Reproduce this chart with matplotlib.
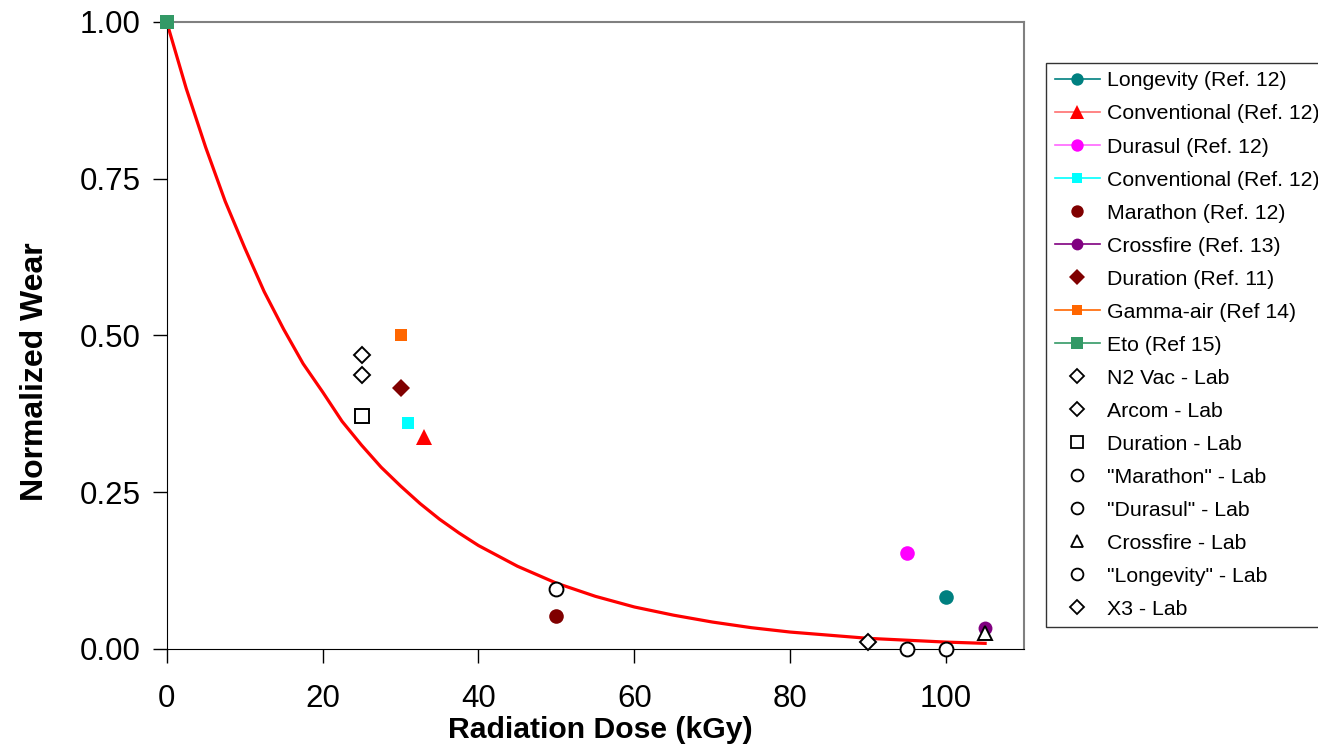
import matplotlib
matplotlib.use("Agg")
from matplotlib import pyplot as plt

plt.rcParams['font.family'] = ['Liberation Sans', 'DejaVu Sans']

# fitted trend line
curve_dose = [0, 2.5, 5, 7.5, 10, 12.5, 15, 17.5, 20, 22.5, 25, 27.5, 30, 32.5, 35, 37.5, 40,
              45, 50, 55, 60, 65, 70, 75, 80, 85, 90, 95, 100, 105]
curve_wear = [1.00, 0.894, 0.80, 0.714, 0.64, 0.570, 0.51, 0.455, 0.41, 0.363, 0.325, 0.290,
              0.26, 0.232, 0.207, 0.185, 0.165, 0.132, 0.105, 0.084, 0.067, 0.054, 0.043,
              0.034, 0.027, 0.022, 0.017, 0.014, 0.011, 0.009]

labels = ["Longevity (Ref. 12)", "Conventional (Ref. 12)", "Durasul (Ref. 12)",
          "Conventional (Ref. 12)", "Marathon (Ref. 12)", "Crossfire (Ref. 13)",
          "Duration (Ref. 11)", "Gamma-air (Ref 14)", "Eto (Ref 15)",
          "N2 Vac - Lab", "Arcom - Lab", "Duration - Lab", "\"Marathon\" - Lab",
          "\"Durasul\" - Lab", "Crossfire - Lab", "\"Longevity\" - Lab", "X3 - Lab"]
dose = [100, 33, 95, 31, 50, 105, 30, 30, 0, 25, 25, 25, 50, 95, 105, 100, 90]
wear = [0.083, 0.338, 0.153, 0.36, 0.053, 0.033, 0.416, 0.50, 1.00,
        0.469, 0.437, 0.372, 0.096, 0.0, 0.025, 0.0, 0.011]

markers = ["o", "^", "o", "s", "o", "o", "D", "s", "s",
           "D", "D", "s", "o", "o", "^", "o", "D"]
colors = ["#008080", "#ff0000", "#ff00ff", "#00ffff", "#800000", "#800080", "#800000",
          "#ff6600", "#339966"] + ["none"] * 8
line_colors = ["#008080", "#ff7070", "#ff66ff", "#00ffff", "none", "#800080", "none",
               "#ff6600", "#339966"] + ["none"] * 8
sizes = [10.5, 12, 10.5, 8, 10.5, 10, 9, 8.5, 9.5, 8.5, 8.5, 10, 10, 10, 10.5, 10, 8.5]

fig = plt.figure(figsize=(13.18, 7.55), dpi=100)
ax = fig.add_axes([0.1265, 0.1404, 0.6505, 0.8305])

ax.plot(curve_dose, curve_wear, color="red", lw=2.3, zorder=2)

handles = []
for i in range(len(labels)):
    filled = colors[i] != "none"
    ax.plot(dose[i], wear[i], linestyle="none", marker=markers[i], ms=sizes[i],
            markerfacecolor=colors[i] if filled else "white",
            markeredgecolor=colors[i] if filled else "black",
            markeredgewidth=0 if filled else 1.4, clip_on=False, zorder=3)
    h, = plt.plot([], [], color=line_colors[i], lw=1.2, marker=markers[i],
                  ms=sizes[i] * 0.85,
                  markerfacecolor=colors[i] if filled else "white",
                  markeredgecolor=colors[i] if filled else "black",
                  markeredgewidth=0 if filled else 1.3)
    handles.append(h)

ax.set_xlim(0, 110)
ax.set_ylim(0, 1.0)
ax.set_xticks([0, 20, 40, 60, 80, 100])
ax.set_yticks([0, 0.25, 0.5, 0.75, 1.0])
ax.set_yticklabels(["0.00", "0.25", "0.50", "0.75", "1.00"])
ax.tick_params(labelsize=22.5, length=10, width=1, direction="out")
ax.tick_params(axis="x", pad=15)
ax.tick_params(axis="y", pad=9)

for side in ["left", "bottom"]:
    ax.spines[side].set_color("black")
for side in ["top", "right"]:
    ax.spines[side].set_color("#808080")
    ax.spines[side].set_linewidth(1.5)

ax.set_xlabel("Radiation Dose (kGy)", fontsize=21.7, fontweight="bold", labelpad=2)
ax.xaxis.label.set_x(0.506)
ax.set_ylabel("Normalized Wear", fontsize=23, fontweight="bold")
ax.yaxis.set_label_coords(-0.136, 0.443)

leg = fig.legend(handles, labels, loc="upper left", bbox_to_anchor=(0.794, 0.9166),
                 fontsize=15.3, frameon=True, fancybox=False, edgecolor="black",
                 handlelength=2.1, handletextpad=0.33, labelspacing=0.66,
                 borderpad=0.4, borderaxespad=0)
leg.get_frame().set_linewidth(1.0)

fig.savefig("out.png", dpi=100)
